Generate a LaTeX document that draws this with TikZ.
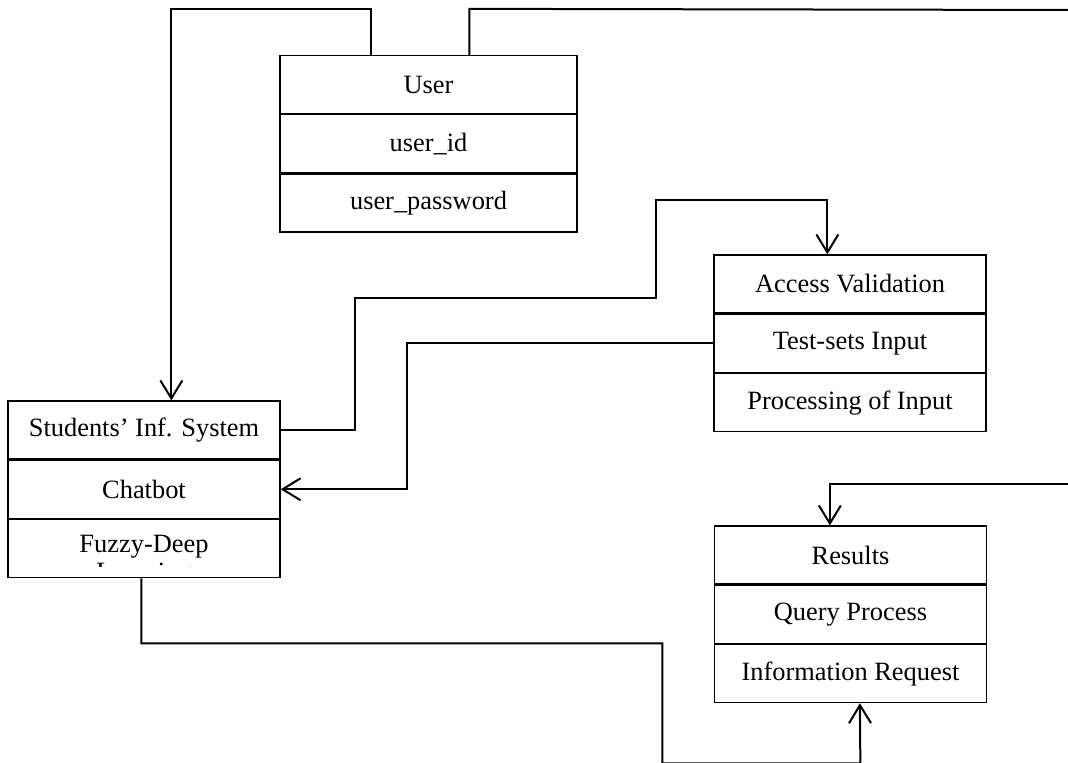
\documentclass[tikz,border=0pt]{standalone}
\usepackage{fontspec}
\setmainfont{Liberation Serif}
\usetikzlibrary{arrows.meta}
\begin{document}
\begin{tikzpicture}[x=0.5pt,y=-0.5pt,
  cell/.style={draw,line width=0.65pt,minimum height=29pt,inner sep=0pt,
    font=\fontsize{13.2}{15}\selectfont},
  ubox/.style={cell,minimum width=148.5pt},
  sbox/.style={cell,minimum width=136pt},
  conn/.style={line width=1pt,line join=miter},
  arr/.style={conn,-{Straight Barb[length=9pt,width=11pt,line width=1pt]}}]
\useasboundingbox (0,0) rectangle (1068,763);
% User
\node[ubox] (u1) at (428.5,84.5) {User};
\node[ubox,anchor=north] (u2) at (u1.south) {user\_id};
\node[ubox,anchor=north] (u3) at (u2.south) {user\_password};
% Students
\node[sbox] (s1) at (144,430) {Students’ Inf. System};
\node[sbox,anchor=north] (s2) at (s1.south) {Chatbot};
\node[sbox,anchor=north] (s3) at (s2.south) {};
\node[anchor=base,font=\fontsize{13.2}{15}\selectfont] (s3t) at (144,552) {Fuzzy-Deep};
\begin{scope}
  \clip (8,517) rectangle (280,566);
  \node[anchor=base,font=\fontsize{13.2}{15}\selectfont] (s3l) at (144,580) {Learning};
\end{scope}
% Access
\node[sbox] (a1) at (850,284) {Access Validation};
\node[sbox,anchor=north] (a2) at (a1.south) {Test-sets Input};
\node[sbox,anchor=north] (a3) at (a2.south) {Processing of Input};
% Results
\node[sbox] (r1) at (850.5,555) {Results};
\node[sbox,anchor=north] (r2) at (r1.south) {Query Process};
\node[sbox,anchor=north] (r3) at (r2.south) {Information Request};
% free ends
\coordinate (eR1) at (1068,10);
\coordinate (eR2) at (1068,484);
% connectors
\draw[arr] ([xshift=46pt]u1.north west) -- ++(0,-46) -| ([xshift=82pt]s1.north west);
\draw[conn] ([xshift=95pt]u1.north west) -- ++(0,-46) -- (eR1);
\draw[arr] (eR2) -| ([xshift=58pt]r1.north west);
\draw[arr] (s1.east) -- ++(74,0) -- ++(0,-132) -- ++(301,0) -- ++(0,-98) -| ([xshift=57pt]a1.north west);
\draw[arr] (a2.west) -- ++(-306,0) |- (s2.east);
\draw[arr] ([xshift=67pt]s3.south west) -- ++(0,65) -- ++(521,0) -- ++(0,120) -- ++(198,0) -- ([xshift=73pt]r3.south west);
\end{tikzpicture}
\end{document}
